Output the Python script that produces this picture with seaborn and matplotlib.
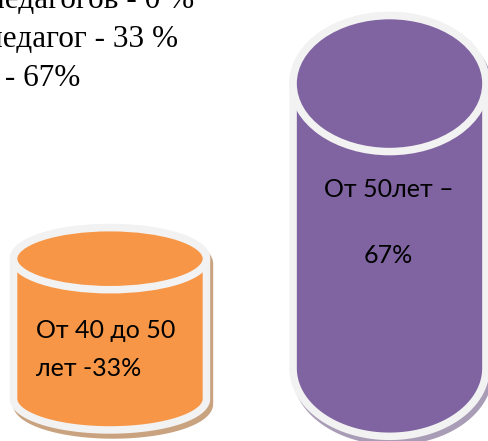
import numpy as np
import matplotlib
matplotlib.use("Agg")
import matplotlib.pyplot as plt
import seaborn as sns
from matplotlib.path import Path
from matplotlib.patches import PathPatch, Ellipse
from matplotlib.transforms import ScaledTranslation

# Данные
groups = ["От 40 до 50 лет", "От 50 лет"]
percent = [33, 67]
top_lines = ["педагогов - 0 %", "педагог - 33 %", " - 67%"]
inner_lines = [["От 40 до 50", f"лет -{percent[0]}%"],
               ["От 50лет –", f"{percent[1]}%"]]

# Оформление
colors = ["#F79646", "#8064A2"]
shadow_colors = ["#c9a37f", "#a99cb6"]
edge = "#F2F2F2"
bases = [9.9, 17.1]      # нижний край цилиндров (в единицах оси y)
cap_half = [7.3, 16.0]   # полувысота эллипсов
W, H = 489, 441

sns.set_theme(style="white")

fig = plt.figure(figsize=(W / 100, H / 100), dpi=100)
ax = fig.add_axes([0, 0, 1, 1])
sns.barplot(x=groups, y=percent, hue=groups, palette=colors, width=0.69,
            saturation=1, legend=False, ax=ax)

bars = sorted([p for p in ax.patches if p.get_height() > 0], key=lambda p: p.get_x())
shift = ScaledTranslation(3 / 100, -5 / 100, fig.dpi_scale_trans)
lw = 5.4

for i, bar in enumerate(bars):
    x0 = bar.get_x()
    w = bar.get_width()
    xc = x0 + w / 2
    y0 = bases[i]
    y1 = y0 + bar.get_height()
    r = cap_half[i]
    bar.set_visible(False)

    t_low = np.linspace(np.pi, 2 * np.pi, 80)
    t_up = np.linspace(0, np.pi, 80)
    lower = np.column_stack([xc + w / 2 * np.cos(t_low), y0 + r * np.sin(t_low)])
    upper = np.column_stack([xc + w / 2 * np.cos(t_up), y1 + r * np.sin(t_up)])
    verts = np.vstack([[x0, y1], lower, upper, [x0, y1]])
    codes = [Path.MOVETO] + [Path.LINETO] * (len(verts) - 2) + [Path.CLOSEPOLY]
    path = Path(verts, codes)

    # тень
    ax.add_patch(PathPatch(path, fc=shadow_colors[i], ec=shadow_colors[i], lw=lw,
                           transform=ax.transData + shift, zorder=1))
    # корпус
    ax.add_patch(PathPatch(path, fc=colors[i], ec=edge, lw=lw, zorder=2))
    # верхняя крышка
    ax.add_patch(Ellipse((xc, y1), w, 2 * r, fc=colors[i], ec=edge, lw=lw, zorder=3))

ax.set_xlim(-110 / 279.5, (W - 110) / 279.5)
ax.set_ylim(0, H / 4.25)
ax.axis("off")

def px(x, y):
    return x / W, 1 - y / H

label_font = ["Lato", "DejaVu Sans"]
# подписи внутри цилиндров
fig.text(*px(36, 338), inner_lines[0][0], fontsize=18, family=label_font,
         va="baseline", color="black")
fig.text(*px(36, 376), inner_lines[0][1], fontsize=18, family=label_font,
         va="baseline", color="black")
fig.text(*px(389, 197), inner_lines[1][0], fontsize=18, family=label_font,
         va="baseline", ha="center", color="black")
fig.text(*px(388, 263), inner_lines[1][1], fontsize=18, family=label_font,
         va="baseline", ha="center", color="black")

# текст слева сверху (обрезан краем, как в оригинале)
for (xr, yb), s in zip([(194, 8), (178, 47), (80, 86)], top_lines):
    fig.text(*px(xr, yb), s, fontsize=22.5, family="Liberation Serif",
             ha="right", va="baseline", color="black")

fig.savefig("out.png", dpi=100)
